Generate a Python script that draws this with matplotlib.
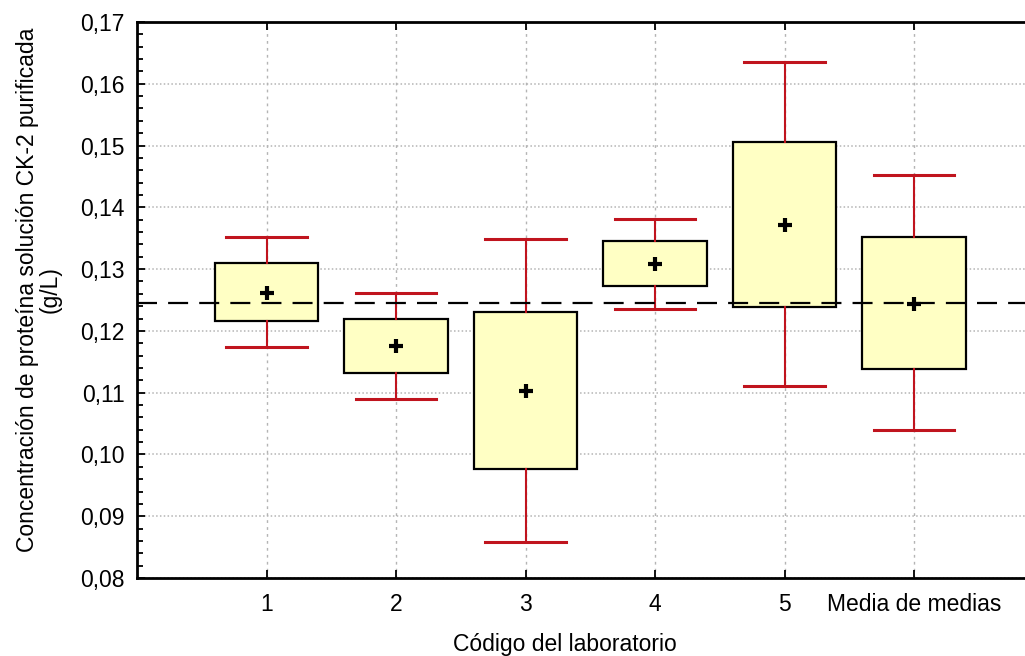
import numpy as np
import matplotlib
matplotlib.use("Agg")
from matplotlib import pyplot as plt
from matplotlib.ticker import MultipleLocator, FuncFormatter

# datos (media, caja, bigotes)
labs = ["1", "2", "3", "4", "5", "Media de medias"]
medias = [0.1262, 0.1176, 0.1102, 0.1308, 0.1371, 0.1244]
caja_inf = [0.1216, 0.1132, 0.0977, 0.1272, 0.1239, 0.1139]
caja_sup = [0.1310, 0.1220, 0.1230, 0.1346, 0.1506, 0.1352]
bigote_inf = [0.1174, 0.1090, 0.0858, 0.1236, 0.1110, 0.1039]
bigote_sup = [0.1352, 0.1261, 0.1348, 0.1381, 0.1635, 0.1452]
gran_media = 0.1245

plt.rcParams["font.family"] = ["Liberation Sans", "DejaVu Sans"]
fs = 16.5

fig = plt.figure(figsize=(10.25, 6.56), dpi=100)
# el eje derecho queda fuera de la figura, como en el original
ax = fig.add_axes([137 / 1025, 78 / 656, 906.5 / 1025, 556 / 656])

stats = []
for i in range(len(labs)):
    stats.append({
        "label": labs[i],
        "med": medias[i],
        "mean": medias[i],
        "q1": caja_inf[i],
        "q3": caja_sup[i],
        "whislo": bigote_inf[i],
        "whishi": bigote_sup[i],
        "fliers": [],
    })

rojo = "#C0141E"
ax.bxp(
    stats,
    positions=np.arange(1, len(labs) + 1),
    widths=0.8,
    patch_artist=True,
    showmeans=True,
    showfliers=False,
    boxprops=dict(facecolor="#FFFFC4", edgecolor="black", linewidth=1.6),
    whiskerprops=dict(color=rojo, linewidth=1.5),
    capprops=dict(color=rojo, linewidth=2.2),
    capwidths=0.62,
    medianprops=dict(visible=False),
    meanprops=dict(marker="+", markeredgecolor="black", markersize=10,
                   markeredgewidth=3),
    zorder=3,
)

ax.axhline(gran_media, color="black", lw=1.6, dashes=(9, 5), zorder=4)

ax.set_xlim(0, 7)
ax.set_ylim(0.08, 0.17)
ax.yaxis.set_major_locator(MultipleLocator(0.01))
ax.yaxis.set_minor_locator(MultipleLocator(0.002))
ax.yaxis.set_major_formatter(FuncFormatter(lambda v, p: f"{v:.2f}".replace(".", ",")))

ax.grid(axis="y", color="#b4b4b4", linestyle=(0, (1, 1.5)), lw=1.1, zorder=0)
ax.grid(axis="x", color="#b4b4b4", linestyle=(0, (2, 3)), lw=1, zorder=0)

ax.tick_params(axis="both", which="both", direction="in", top=True,
               right=False, labelsize=fs, width=1.3)
ax.tick_params(axis="y", which="major", length=6, pad=9)
ax.tick_params(axis="y", which="minor", length=4)
ax.tick_params(axis="x", length=6, pad=11)

for s in ["left", "top", "bottom"]:
    ax.spines[s].set_linewidth(2)
ax.spines["right"].set_visible(False)

fig.text(565 / 1025, 1 - 645 / 656, "Código del laboratorio", fontsize=fs,
         ha="center", va="center")
fig.text(39 / 1025, 1 - 290 / 656,
         "Concentración de proteína solución CK-2 purificada\n(g/L)",
         fontsize=fs, rotation=90, ha="center", va="center",
         multialignment="center", linespacing=0.95)

fig.savefig("out.png", dpi=100)
